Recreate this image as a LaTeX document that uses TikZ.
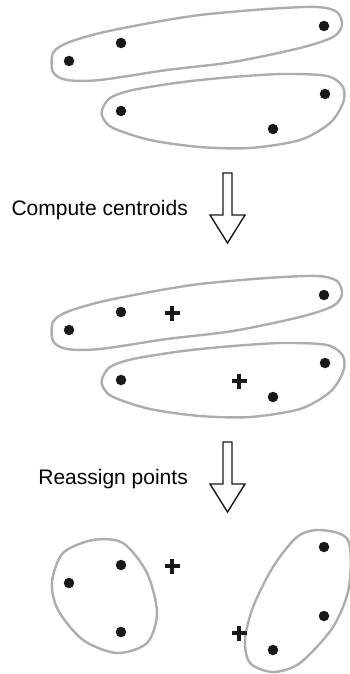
\documentclass[tikz,border=0pt]{standalone}
\usepackage{fontspec}
\setmainfont{Liberation Sans}
\usepackage{tikz}
\usetikzlibrary{positioning, calc}

\begin{document}
\begin{tikzpicture}[
    x=1pt, y=-1pt,
    every node/.style={font=\fontsize{21}{25}\selectfont},
    cluster/.style={draw=black!32, line width=2.4pt},
    datapoint/.style={circle, fill=black!90, inner sep=0pt, minimum size=10.5pt},
    centroid/.style={draw=black!90, line width=3.6pt},
    blockarrow/.style={draw=black!90, line width=1.4pt, fill=white, line join=miter},
    steplabel/.style={anchor=base east, inner sep=0pt},
]
\useasboundingbox (0,0) rectangle (350,674);

% Stage 1: initial clusters
\draw[cluster] plot[smooth cycle] coordinates {(53,53) (67,43) (100,33) (150,23) (200,15)
    (267,9) (317,7) (337,12) (342,25) (333,37) (300,48) (233,62) (167,70) (100,80) (67,80) (53,72)};
\draw[cluster] plot[smooth cycle] coordinates {(102,110) (110,98) (133,90) (183,82) (233,77)
    (283,74) (327,76) (343,87) (343,103) (330,123) (300,140) (250,148) (200,147) (150,140) (113,128) (103,118)};
\node[datapoint] (pa1) at (69,61) {};
\node[datapoint] (pa2) at (121,43) {};
\node[datapoint] (pa3) at (324,26) {};
\node[datapoint] (pb1) at (121,111) {};
\node[datapoint] (pb2) at (273,129) {};
\node[datapoint] (pb3) at (325,94) {};

% Step: compute centroids
\draw[blockarrow, shift={(227.5,173)}] (-4.5,0) -- (4.5,0) -- (4.5,42) -- (17.5,42)
    -- (0,70) -- (-17.5,42) -- (-4.5,42) -- cycle;
\node[steplabel] (lcompute) at (188,215) {Compute centroids};

% Stage 2: clusters with centroids
\begin{scope}[yshift=-269pt]
\draw[cluster] plot[smooth cycle] coordinates {(53,53) (67,43) (100,33) (150,23) (200,15)
    (267,9) (317,7) (337,12) (342,25) (333,37) (300,48) (233,62) (167,70) (100,80) (67,80) (53,72)};
\draw[cluster] plot[smooth cycle] coordinates {(102,110) (110,98) (133,90) (183,82) (233,77)
    (283,74) (327,76) (343,87) (343,103) (330,123) (300,140) (250,148) (200,147) (150,140) (113,128) (103,118)};
\end{scope}
\node[datapoint] (qa1) at (69,330) {};
\node[datapoint] (qa2) at (121,312) {};
\node[datapoint] (qa3) at (324,295) {};
\node[datapoint] (qb1) at (121,380) {};
\node[datapoint] (qb2) at (273,397) {};
\node[datapoint] (qb3) at (325,363) {};
\coordinate (ca) at (172,313);
\coordinate (cb) at (239,381);
\draw[centroid] (ca) +(-7.5,0) -- +(7.5,0) +(0,-7.5) -- +(0,7.5);
\draw[centroid] (cb) +(-7.5,0) -- +(7.5,0) +(0,-7.5) -- +(0,7.5);

% Step: reassign points
\draw[blockarrow, shift={(227.5,442)}] (-4.5,0) -- (4.5,0) -- (4.5,42) -- (17.5,42)
    -- (0,70) -- (-17.5,42) -- (-4.5,42) -- cycle;
\node[steplabel] (lreassign) at (188,484) {Reassign points};

% Stage 3: reassigned clusters
\draw[cluster] plot[smooth cycle] coordinates {(52,582) (63,553) (93,540) (123,543) (147,573)
    (157,613) (147,643) (117,653) (83,640) (58,610)};
\draw[cluster] plot[smooth cycle] coordinates {(320,530) (348,540) (349,587) (333,627) (300,663)
    (273,672) (250,663) (245,640) (253,607) (273,567) (297,537)};
\node[datapoint] (ra1) at (69,583) {};
\node[datapoint] (ra2) at (121,565) {};
\node[datapoint] (ra3) at (121,632) {};
\node[datapoint] (rb1) at (324,547) {};
\node[datapoint] (rb2) at (324,616) {};
\node[datapoint] (rb3) at (273,650) {};
\coordinate (da) at (172,566);
\coordinate (db) at (239,633);
\draw[centroid] (da) +(-7.5,0) -- +(7.5,0) +(0,-7.5) -- +(0,7.5);
\draw[centroid] (db) +(-7.5,0) -- +(7.5,0) +(0,-7.5) -- +(0,7.5);

\end{tikzpicture}
\end{document}
